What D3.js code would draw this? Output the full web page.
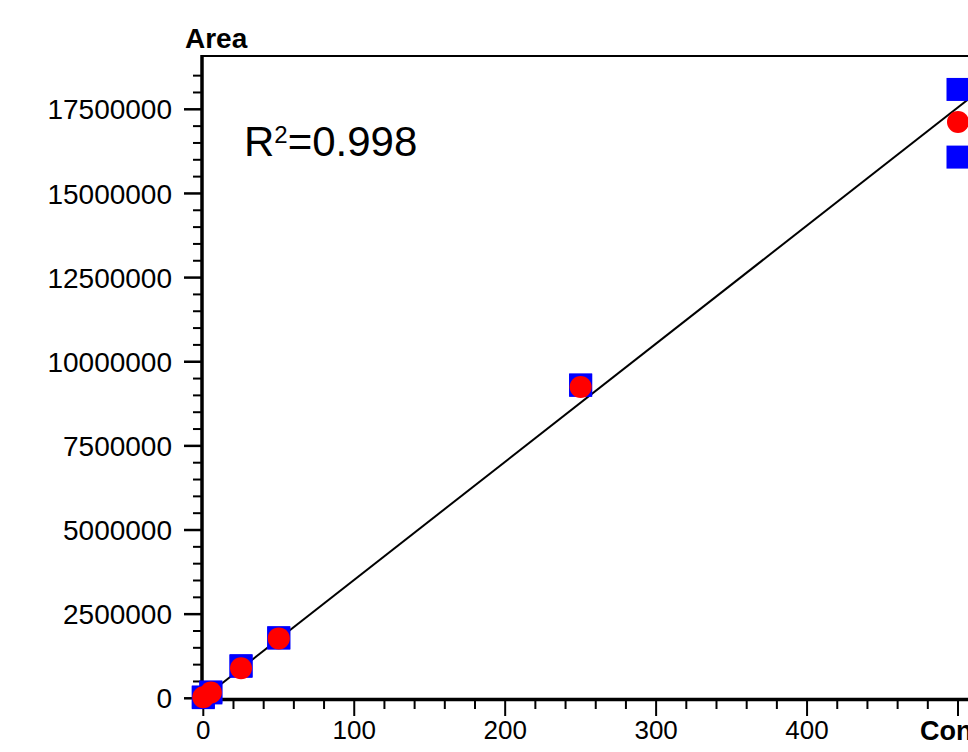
<!DOCTYPE html>
<html lang="en">
  <head>
    <meta charset="UTF-8" />
    <title>calibration</title>
    <script src="https://cdn.jsdelivr.net/npm/d3@7.9.0/dist/d3.min.js"></script>
    <style>
      body { margin: 0; background: #fff; }
      svg { display: block; font-family: 'Liberation Sans', Arial, sans-serif; }
    </style>
  </head>
  <body>
    <svg width="968" height="752"></svg>
  </body>

  <script>
    // 数据：浓度、重复测定峰面积（蓝色方块）、平均值（红色圆点）
    var conc = [0, 5, 25, 50, 250, 500];
    var areaRep1 = [20000, 160000, 970000, 1800000, 9300000, 18090000];
    var areaRep2 = [40000, 190000, 950000, 1790000, 9310000, 16080000];
    var areaMean = [30000, 170000, 890000, 1780000, 9250000, 17120000];
    var xTicks = [0, 100, 200, 300, 400, 500];
    var xLabels = [0, 100, 200, 300, 400]; // 500 处被轴标题占据
    var yTicks = [0, 2500000, 5000000, 7500000, 10000000, 12500000, 15000000, 17500000];
    var fitSlope = 35100;
    var fitIntercept = 10000;
    var r2Text = '0.998';

    var svg = d3.select('svg');

    // 比例尺
    var scaleX = d3.scaleLinear().domain([0, 500]).range([203.3, 958]);
    var scaleY = d3.scaleLinear().domain([0, 17500000]).range([698.3, 109.3]);

    // 注意：不能用 top 作变量名（window.top 只读）
    var frameLeft = 202;
    var frameTop = 56;
    var frameBottom = 699.5;
    var frameRight = 1000;

    // 外框
    svg.append('line').attr('x1', frameLeft).attr('x2', frameRight).attr('y1', frameTop).attr('y2', frameTop)
      .attr('stroke', '#000').attr('stroke-width', 2);
    svg.append('line').attr('x1', frameLeft).attr('x2', frameLeft).attr('y1', frameTop - 1).attr('y2', frameBottom + 2)
      .attr('stroke', '#000').attr('stroke-width', 3.5);
    svg.append('line').attr('x1', frameLeft - 2).attr('x2', frameRight).attr('y1', frameBottom).attr('y2', frameBottom)
      .attr('stroke', '#000').attr('stroke-width', 3.5);

    // y轴刻度（主刻度 + 次刻度）
    var yMinor = d3.range(0, 18600000, 500000).filter(function (d) {
      return d % 2500000 !== 0;
    });
    svg.append('g').selectAll('line').data(yMinor).enter().append('line')
      .attr('x1', 193).attr('x2', frameLeft)
      .attr('y1', function (d) { return scaleY(d); })
      .attr('y2', function (d) { return scaleY(d); })
      .attr('stroke', '#000').attr('stroke-width', 2);
    svg.append('g').selectAll('line').data(yTicks).enter().append('line')
      .attr('x1', 184).attr('x2', frameLeft)
      .attr('y1', function (d) { return scaleY(d); })
      .attr('y2', function (d) { return scaleY(d); })
      .attr('stroke', '#000').attr('stroke-width', 2.5);
    svg.append('g').selectAll('text').data(yTicks).enter().append('text')
      .attr('x', 172)
      .attr('y', function (d) { return scaleY(d); })
      .attr('dy', '0.36em')
      .attr('text-anchor', 'end')
      .attr('font-size', 28)
      .text(function (d) { return d; });

    // x轴刻度
    var xMinor = d3.range(20, 520, 20).filter(function (d) {
      return d % 100 !== 0;
    });
    svg.append('g').selectAll('line').data(xMinor).enter().append('line')
      .attr('x1', function (d) { return scaleX(d); })
      .attr('x2', function (d) { return scaleX(d); })
      .attr('y1', frameBottom + 1).attr('y2', 709)
      .attr('stroke', '#000').attr('stroke-width', 2);
    svg.append('g').selectAll('line').data(xTicks).enter().append('line')
      .attr('x1', function (d) { return scaleX(d); })
      .attr('x2', function (d) { return scaleX(d); })
      .attr('y1', frameBottom + 1).attr('y2', 716)
      .attr('stroke', '#000').attr('stroke-width', 2);
    svg.append('g').selectAll('text').data(xLabels).enter().append('text')
      .attr('x', function (d) { return scaleX(d); })
      .attr('y', 739)
      .attr('text-anchor', 'middle')
      .attr('font-size', 26)
      .text(function (d) { return d; });

    // 轴标题
    svg.append('text').attr('x', 185).attr('y', 48)
      .attr('font-size', 28).attr('font-weight', 'bold').text('Area');
    svg.append('text').attr('x', 920).attr('y', 740)
      .attr('font-size', 27).attr('font-weight', 'bold').text('Conc.');

    // 拟合直线
    var lineX = [0, 520];
    svg.append('path')
      .datum(lineX)
      .attr('d', d3.line()
        .x(function (d) { return scaleX(d); })
        .y(function (d) { return scaleY(fitSlope * d + fitIntercept); }))
      .attr('stroke', '#000').attr('stroke-width', 2).attr('fill', 'none');

    // 蓝色方块：重复测定
    var side = 23;
    var reps = [];
    conc.forEach(function (c, i) {
      reps.push([c, areaRep1[i]]);
      reps.push([c, areaRep2[i]]);
    });
    svg.append('g').selectAll('rect').data(reps).enter().append('rect')
      .attr('x', function (d) { return scaleX(d[0]) - side / 2; })
      .attr('y', function (d) { return scaleY(d[1]) - side / 2; })
      .attr('width', side).attr('height', side)
      .attr('fill', '#0000ff');

    // 红色圆点：平均值
    svg.append('g').selectAll('circle').data(conc).enter().append('circle')
      .attr('cx', function (d) { return scaleX(d); })
      .attr('cy', function (d, i) { return scaleY(areaMean[i]); })
      .attr('r', 11)
      .attr('fill', '#ff0000');

    // R²
    var r2 = svg.append('text').attr('x', 244).attr('y', 156).attr('font-size', 42);
    r2.append('tspan').text('R');
    r2.append('tspan').attr('font-size', 24).attr('dy', -13).text('2');
    r2.append('tspan').attr('dy', 13).text('=' + r2Text);
  </script>
</html>
